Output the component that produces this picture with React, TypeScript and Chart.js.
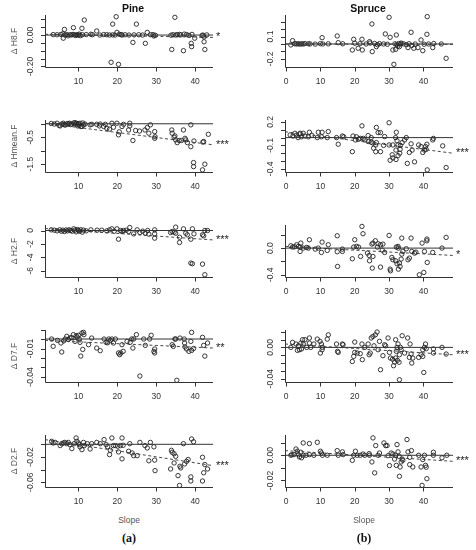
import React, { useEffect, useRef } from "react";
import { Chart, registerables } from "chart.js";

Chart.register(...registerables);

type Pt = [number, number];

// ---------- axes ----------
const pineXRange = [1.4, 44.6];
const spruceXRange = [-0.3, 48.6];
const pineXTicks = [10, 20, 30, 40];
const spruceXTicks = [0, 10, 20, 30, 40];
const rowTitles = ["Δ H8.F", "Δ Hmean.F", "Δ H2.F", "Δ D7.F", "Δ D2.F"];
const columnTitles = ["Pine", "Spruce"];
const panelLetters = ["(a)", "(b)"];
const xTitle = "Slope";

// ---------- Pine ----------
const pineH8: Pt[] = [
  [3.5, 0.003], [4.5, 0.002], [5.5, 0.004], [6, 0.008], [6.5, 0], [7, 0.003], [7.3, -0.005], [7.8, 0.002],
  [8.2, 0], [8.6, 0.004], [9, 0.001], [9.3, -0.003], [9.6, 0.002], [10, 0], [10.2, 0.006], [10.5, -0.004],
  [11, 0.002], [12, 0.003], [13.2, 0.005], [13.6, 0.002], [15.5, 0], [16.5, 0.003], [17.3, 0.002], [18, 0],
  [18.8, 0.001], [19.4, 0], [20.5, 0.005], [21, 0.003], [21.2, 0], [22, 0.002], [23, 0], [24.3, 0.001],
  [25.5, 0.002], [26.5, 0], [28.5, 0.002], [29.2, 0.003], [29.8, -0.002], [33.8, -0.001], [34.3, 0.002],
  [35, 0], [35.4, 0.003], [36, 0.004], [36.3, 0.001], [37.2, 0.006], [37.8, 0.003], [38.4, -0.002],
  [39.2, 0.004], [41.8, -0.003], [42, 0], [42.3, -0.012], [43, 0.001],
  [11.5, 0.096], [8.7, 0.047], [6.4, 0.036], [10.9, 0.043], [19.7, 0.117], [18.8, 0.07], [24.9, 0.07],
  [34.8, 0.113], [14.7, 0.026], [19.9, 0.017], [27.7, 0.017], [18.4, -0.174], [20.3, -0.187], [24, -0.047],
  [27.2, -0.053], [34, -0.092], [37, -0.1], [39, -0.053], [39.1, -0.074], [42.3, -0.043], [42.5, -0.092],
  [39.9, -0.02], [6.1, -0.02], [29.4, -0.006],
];
const pineHmean: Pt[] = [
  [3, 0.01], [3.8, -0.01], [4.5, 0.02], [5, -0.06], [5.3, -0.08], [5.7, -0.01], [6.1, 0.02], [6.3, -0.03],
  [6.6, -0.05], [7, -0.01], [7.3, 0.01], [7.7, 0.02], [8, -0.03], [8.3, -0.01], [8.8, 0.03], [9.1, 0.04],
  [9.3, -0.02], [9.5, 0.02], [9.8, -0.08], [10, 0], [10.2, -0.05], [10.4, 0.02], [10.6, -0.1], [10.9, -0.1],
  [11.1, 0.03], [11.3, -0.04], [11.7, -0.01], [13, -0.04], [13.4, -0.02], [14.7, -0.02], [15.4, -0.08],
  [15.6, -0.01], [16.5, -0.1], [16.9, -0.02], [17.3, -0.17], [18, -0.2], [18.6, 0.02], [19, -0.13],
  [19.9, 0.02], [20.3, -0.41], [20.5, -0.3], [21.2, -0.1], [21.6, -0.02], [22.9, -0.23], [23.2, 0.02],
  [23.2, -0.08], [24, -0.62], [24.7, -0.25], [25.7, -0.27], [27.1, -0.23], [27.7, -0.14], [28.1, -0.35],
  [28.5, -0.04], [29.6, -0.29], [29.6, -0.54], [29.7, -0.48], [34, -0.23], [34.1, -0.35], [34.6, -0.5],
  [35, -0.6], [35.4, -0.7], [35.9, -0.62], [37, -0.23], [37.4, -0.54], [38, -0.7], [38.9, -0.85],
  [38.9, -0.04], [39.7, -0.64], [39.6, -1.44], [39.6, -1.59], [41.9, -1.71], [42.2, -0.66], [42.5, -1.5],
  [43.4, -0.39], [36.5, -0.62], [34.8, -0.45], [37.6, -0.6], [42, -0.68],
];
const pineH2: Pt[] = [
  [3, 0.1], [3.8, 0.05], [4.5, -0.05], [5.2, 0.1], [5.6, -0.1], [6, 0.05], [6.4, -0.15], [6.8, 0.08],
  [7.2, -0.05], [7.6, 0.1], [8, 0], [8.4, -0.1], [8.8, 0.25], [9.1, 0.05], [9.4, -0.2], [9.7, 0.15],
  [10, 0], [10.3, -0.1], [10.6, 0.12], [11, -0.25], [11.3, 0.05], [12, -0.05], [13.2, 0.1], [14.8, 0.05],
  [16, 0.05], [17.3, -0.05], [18, 0.1], [18.6, 0.25], [19.2, -0.1], [19.9, 0.25], [20.8, 0], [21.2, -0.15],
  [21.6, 0], [22.9, -0.15], [23.2, 0.45], [24.2, -0.5], [25.1, 0.1], [25.8, -0.3], [27.2, -0.4],
  [28.1, -0.54], [29.6, 0.1], [29.6, -0.5], [29.6, -1.14], [20.3, -1.29], [33.7, -0.3], [34.1, -0.15],
  [34.6, -0.25], [35, -0.4], [35, 0.5], [36, -1], [36, -1.78], [37, 0.25], [37.6, -0.4], [38, -0.64],
  [38.9, -1.29], [39.3, 0.25], [39.7, -0.5], [41.9, -0.64], [42.2, -0.8], [42.5, 0], [43.2, 0],
  [38.9, -4.85], [39.3, -4.95], [41.9, -5], [42.5, -6.58], [27.8, 0], [26.5, -0.1], [22.3, 0.05],
];
const pineD7: Pt[] = [
  [3.5, -0.0077], [5.7, -0.0137], [5.5, -0.0042], [4.6, -0.0014], [3.1, 0], [7, 0.0028], [7.4, -0.0005],
  [7.8, 0.001], [8.7, 0.0046], [9.1, -0.0025], [9.4, 0.0035], [10, 0.0039], [10.2, 0], [10.4, -0.0035],
  [10.6, -0.018], [10.9, 0.0063], [11.3, 0.007], [11.1, -0.011], [11.4, 0.0046], [12.6, -0.006],
  [13.4, 0.001], [14.7, -0.0095], [15.6, -0.0123], [16.6, 0], [17.1, -0.0035], [17.5, -0.004],
  [18.2, -0.0014], [18.6, 0], [19, -0.0042], [20.3, -0.0147], [20.6, -0.0165], [20.9, -0.0147],
  [21.2, -0.006], [21.5, -0.013], [22.5, -0.0025], [23.3, -0.0035], [23.7, 0], [24, -0.0095],
  [24.9, 0.0046], [25.8, -0.039], [27.2, -0.0067], [28.3, 0], [28.7, 0.0039], [29.6, -0.0105],
  [29.4, -0.013], [29.6, -0.0147], [34.1, -0.006], [34.4, -0.0077], [34.8, 0], [35.3, -0.0435],
  [36.1, 0.001], [37.3, -0.0042], [37.4, -0.0084], [37.8, -0.0105], [38.4, -0.013], [38.9, -0.0025],
  [39.1, 0.007], [39.1, -0.012], [39.6, -0.01], [41.9, 0.0018], [42.2, -0.0067], [42.5, -0.018],
  [43.2, -0.0042], [37.2, 0], [35, 0], [26.8, 0], [24.2, 0], [19.5, 0], [17.8, 0], [6.2, -0.002],
  [8.2, 0.0015], [9.7, 0.002], [6.6, 0],
];
const pineD2: Pt[] = [
  [3.1, 0.0047], [3.5, 0.002], [4, 0.003], [5.3, -0.002], [5.7, 0.001], [6.1, 0.002], [6.5, 0.003],
  [7, 0.001], [7.4, 0.003], [7.8, -0.0005], [8.3, -0.0068], [8.9, 0.001], [9.4, 0.01], [9.6, 0.0047],
  [10, 0.002], [10.2, -0.0005], [10.4, -0.004], [10.9, -0.0084], [11.3, 0.003], [11.5, -0.002],
  [12.3, 0.001], [13, -0.0074], [13.4, 0.001], [14.7, 0.003], [15.6, 0.001], [16.6, 0.0074],
  [17.1, -0.0005], [17.5, -0.004], [18, -0.0163], [18.2, -0.0095], [18.6, 0.01], [19, -0.002],
  [19.5, -0.002], [20.1, -0.003], [20.3, -0.012], [20.8, -0.002], [21.2, 0.01], [21.2, -0.023],
  [21.5, -0.0015], [22.9, -0.011], [23.2, 0.001], [23.8, -0.0137], [24.2, -0.018], [25.1, -0.018],
  [25.8, 0.003], [27.1, -0.002], [27.7, -0.0058], [28.1, -0.026], [28.5, 0.003], [29.4, -0.004],
  [29.6, -0.025], [29.7, -0.0416], [33.9, -0.0095], [34.1, -0.0126], [34.6, -0.015], [35, -0.019],
  [34.6, -0.0295], [33.7, -0.039], [35.6, -0.0495], [36, -0.065], [36.1, -0.0347], [36.3, -0.0374],
  [37, 0.001], [37.3, -0.031], [37.8, -0.027], [38.2, -0.024], [38.9, -0.0516], [38.9, -0.058],
  [39.1, 0.0084], [39.6, 0.004], [41.9, -0.0205], [41.9, -0.058], [42.2, -0.045], [42.5, -0.032],
  [43.2, -0.039],
];

// ---------- Spruce ----------
const spruceH8: Pt[] = [
  [30, 0.359], [41.1, 0.368], [25, 0.269], [28.9, 0.135], [30.3, 0.09], [32.1, 0.121], [36.4, 0.157],
  [41, 0.13], [39.3, 0.054], [10.5, 0.085], [14.9, 0.108], [15.2, 0.018], [1.9, 0.045], [1.4, -0.013],
  [19.7, 0.063], [22.1, 0.063], [24.3, 0.031], [19.3, -0.081], [21, -0.058], [22.2, -0.081],
  [25.1, -0.103], [31.4, -0.274], [31.1, -0.081], [31.9, -0.072], [33, -0.036], [35.5, -0.049],
  [37.2, -0.058], [39.8, -0.09], [42.7, -0.049], [46.6, -0.193], [38.4, -0.049], [26.3, -0.036],
  [2.5, 0.004], [3, 0], [3.5, 0.003], [4, -0.002], [4.5, 0.002], [5, 0], [5.5, 0.005], [6.5, 0.003],
  [7, 0], [8.5, -0.002], [10, 0.004], [10.7, 0], [12.3, 0.002], [16.5, 0.003], [20, 0.01], [21.5, 0.004],
  [23.3, 0], [24.5, 0.012], [25.8, 0.006], [26.6, -0.01], [27.2, 0.004], [28.4, 0], [29.5, -0.004],
  [31.7, 0.002], [32.2, -0.008], [32.8, 0.005], [33.4, 0], [34.2, 0.002], [35, -0.01], [35.8, 0.003],
  [36.6, -0.02], [37.6, 0], [40.2, -0.004], [41.5, 0], [43, 0.006], [45.2, 0], [32.5, -0.03], [33.5, 0.012],
];
const spruceHmean: Pt[] = [
  [30, 0.19], [22.1, 0.15], [26.3, 0.13], [26.8, 0.064], [27.5, 0.064], [32.1, 0.068], [35, 0],
  [28.7, 0.013], [24.8, 0], [23.9, 0.026], [19.5, 0.02], [20.5, 0.01], [19.3, -0.18], [15.2, -0.085],
  [12.3, 0.077], [10.5, 0.068], [9.4, 0.068], [6.8, 0.068], [5, 0.055], [4.1, 0.055], [2.6, 0.055],
  [1.2, 0.034], [2, 0.02], [3, 0.03], [3.5, 0], [4, 0.045], [4.5, 0.01], [5.5, 0.02], [6.5, 0.01],
  [7.5, 0.03], [9.1, 0], [10.3, 0.01], [12, 0], [14.7, 0], [16.4, 0.02], [16.8, 0.01], [20.2, -0.03],
  [21.1, -0.02], [21.6, -0.01], [22.5, -0.01], [23, -0.03], [23.9, -0.05], [24.8, -0.06], [25.3, -0.07],
  [26.1, -0.094], [25.5, -0.136], [26.1, -0.18], [27.5, -0.18], [26.3, -0.064], [28.4, -0.1],
  [30, -0.094], [30.3, -0.29], [30.9, -0.22], [31.1, -0.26], [32, -0.28], [32.6, -0.23], [33.1, -0.2],
  [33.2, -0.15], [32, -0.16], [31.1, -0.094], [32.6, -0.094], [33.3, -0.1], [33.8, -0.064],
  [34.5, -0.03], [31.9, 0], [32.3, -0.04], [35.3, -0.33], [35.9, -0.19], [36.7, -0.16], [36.4, -0.08],
  [37.4, -0.31], [38.6, -0.094], [39.3, -0.115], [39.8, -0.19], [40.3, -0.16], [40.6, -0.115],
  [41, -0.085], [40.8, -0.15], [41.1, -0.413], [46.6, -0.383], [42.7, -0.03], [42.9, -0.01],
  [45.6, -0.106],
];
const spruceH2: Pt[] = [
  [22.1, 0.325], [22.4, 0.215], [14.9, 0.185], [30, 0.19], [33.7, 0.15], [36.4, 0.15], [41, 0.135],
  [41, 0.11], [46.6, 0.16], [39.6, 0.075], [26, 0.11], [25.3, 0.075], [26.8, 0.065], [27.5, 0.05],
  [28.2, 0.06], [25, 0.06], [20, 0.125], [6.8, 0.125], [10.5, 0.09], [12.3, 0.05], [4.3, 0.075],
  [3.1, 0.05], [1.4, 0.035], [1.9, 0.015], [3.6, 0.025], [4.1, 0.015], [5, 0], [6, 0.01], [6.5, 0],
  [8.5, -0.015], [9.4, 0], [4.1, -0.05], [10.3, -0.065], [12, -0.035], [14.9, -0.055], [15, -0.275],
  [16.4, -0.015], [16.4, -0.05], [19.3, -0.16], [19.7, 0.015], [20.5, 0.025], [21.1, 0.015],
  [21.7, -0.125], [23.7, -0.075], [24.2, -0.11], [24.3, -0.19], [25.1, -0.3], [25.3, -0.125],
  [26.6, 0.015], [27.5, -0.285], [28.7, -0.065], [30.3, -0.315], [30.4, -0.34], [30.8, -0.14],
  [31.1, -0.175], [31.9, -0.19], [32.1, 0.015], [32.6, 0.025], [32.7, 0], [32.3, -0.235], [32.7, -0.315],
  [33, -0.225], [33.2, -0.275], [33.5, -0.165], [33.7, -0.09], [34, -0.05], [35, -0.01], [35.5, -0.175],
  [35.9, -0.15], [36.6, -0.05], [37.4, -0.075], [38.8, -0.4], [40.1, -0.365], [40.3, -0.05],
  [41.1, -0.215], [42.7, -0.065], [45.4, 0], [2.5, 0.02], [28, -0.03], [37.8, -0.06],
];
const spruceD7: Pt[] = [
  [1.4, 0], [1.9, 0.0064], [2.9, 0.0043], [3.3, -0.0038], [3.9, -0.003], [3.6, 0.002], [4.3, 0.0055],
  [4.5, -0.002], [4.8, 0.0098], [5, 0.0043], [5.5, 0.0098], [6, 0], [6.8, 0.012], [6.8, 0.0055], [7.2, 0],
  [8.1, 0.0043], [9.1, 0.0106], [9.9, 0.0077], [10, -0.0072], [10.3, 0.0043], [10.5, -0.003], [10.6, 0],
  [12, 0.0106], [12.3, 0.016], [14.7, 0.0043], [15, -0.005], [15.2, -0.0064], [16.4, 0.0043],
  [16.6, 0.0034], [19.3, -0.018], [20, 0.0068], [20, -0.0064], [19.7, -0.0115], [20.7, -0.0072],
  [21.6, -0.008], [22.2, -0.0157], [22.1, 0.0043], [22.9, 0], [23.9, 0.0043], [24.2, -0.0094],
  [24.5, -0.0072], [24.8, 0.012], [25.3, 0.014], [25.6, 0.002], [26, 0.016], [26.5, 0.0196],
  [26.8, -0.003], [27.2, 0.0077], [27.5, -0.0285], [28.2, -0.0106], [28.7, 0.0034], [29, 0.002],
  [29.7, 0.012], [30.1, -0.0064], [30.4, -0.0136], [31, -0.015], [31.3, -0.0234], [31.6, -0.0187],
  [31.9, 0.0098], [31.9, -0.0136], [32.1, -0.005], [32.3, 0], [32.4, -0.0166], [32.6, 0.0043],
  [32.9, -0.019], [33, -0.0413], [33, -0.0094], [33.3, 0], [33.5, -0.003], [33.8, 0.0149],
  [34.5, -0.0072], [35.4, 0.012], [35.9, -0.0128], [36.1, 0.0043], [36.4, -0.0085], [36.6, -0.02],
  [36.9, -0.0136], [38.6, -0.0128], [39.3, -0.0094], [39.8, -0.0115], [39.8, -0.003], [40.1, -0.032],
  [40.3, 0], [40.6, 0.0043], [40.8, -0.0017], [42.9, -0.002], [42.9, -0.0072], [45.4, 0], [46.6, -0.0085],
];
const spruceD2: Pt[] = [
  [1.4, 0], [1.7, 0.0005], [2.3, 0.0005], [2.9, 0.005], [3.3, 0.0032], [3.6, 0.0005], [3.9, -0.0013],
  [4.3, 0.0024], [4.5, -0.002], [5, 0.0098], [5, 0], [5.8, 0], [6.8, 0.0093], [6.8, 0.0005], [8.1, 0],
  [9.1, 0.0103], [10, 0.0032], [10.3, 0.0018], [10.6, 0], [12, 0], [14.9, 0.0037], [15.2, 0],
  [16.4, 0.0027], [16.6, 0.0005], [19.3, -0.004], [19.7, 0], [20.2, 0.0032], [20.7, 0], [21.6, 0],
  [22.4, 0.001], [22.9, 0], [24.2, 0.0013], [24.3, 0], [25, -0.0053], [25.3, 0.0138], [25.8, -0.014],
  [26.1, 0.0077], [26.8, 0], [27.2, 0.0018], [28.5, 0.0098], [29, 0.0077], [29.4, 0.0077],
  [29.7, -0.0003], [30.1, -0.0082], [30.6, 0.0018], [31.1, 0.001], [31.6, -0.003], [31.9, 0],
  [32.1, -0.008], [32.3, 0.0085], [32.6, 0.0027], [32.9, -0.0008], [33, -0.0167], [33.2, -0.0093],
  [33.5, -0.0053], [33.8, -0.003], [34, -0.004], [35.2, 0.0125], [35.5, 0.0027], [36, -0.0016],
  [36, -0.0074], [36.5, 0.0037], [36.9, -0.0093], [38.6, 0], [39.3, -0.0093], [39.6, -0.0239],
  [39.8, -0.0034], [40.3, 0], [40.6, -0.008], [40.8, -0.0095], [41, -0.0186], [42.9, 0.0024], [42.9, 0],
  [45.4, -0.002], [46.8, 0],
];

// ---------- per-panel y axes, fitted lines (value at left / right end), significance ----------
const pineYRanges = [[-0.204, 0.128], [-1.79, 0.14], [-6.92, 0.82], [-0.0453, 0.0095], [-0.0675, 0.0147]];
const spruceYRanges = [[-0.31, 0.39], [-0.44, 0.225], [-0.433, 0.346], [-0.0442, 0.0222], [-0.0252, 0.0161]];
const pineYTicks = [
  [-0.2, -0.15, -0.1, -0.05, 0, 0.05, 0.1],
  [-1.5, -1, -0.5, 0],
  [-6, -4, -2, 0],
  [-0.04, -0.03, -0.02, -0.01, 0, 0.01],
  [-0.06, -0.04, -0.02, 0],
];
const spruceYTicks = [
  [-0.2, -0.1, 0, 0.1, 0.2, 0.3],
  [-0.4, -0.3, -0.2, -0.1, 0, 0.1, 0.2],
  [-0.4, -0.2, 0, 0.2],
  [-0.04, -0.03, -0.02, -0.01, 0, 0.01, 0.02],
  [-0.02, -0.01, 0, 0.01],
];
const pineYLabels = [["-0.20", "0.00"], ["-1.5", "-0.5"], ["-6", "-4", "-2", "0"], ["-0.04", "-0.01"], ["-0.06", "-0.02"]];
const spruceYLabels = [["-0.2", "0.1"], ["-0.4", "-0.1", "0.2"], ["-0.4", "0.0"], ["-0.04", "0.00"], ["-0.02", "0.00"]];
const pineFits = [[0.005, -0.015], [0.02, -0.78], [0.3, -1.4], [-0.0014, -0.0095], [0.0074, -0.0337]];
const spruceFits = [[0.0, -0.005], [0.075, -0.2], [0.025, -0.11], [0.0043, -0.0094], [0.0037, -0.0048]];
const pineStars = ["*", "***", "***", "**", "***"];
const spruceStars = ["", "***", "*", "***", "***"];

const pinePoints = [pineH8, pineHmean, pineH2, pineD7, pineD2];
const sprucePoints = [spruceH8, spruceHmean, spruceH2, spruceD7, spruceD2];

// ---------- layout ----------
const AREA_H = 52;
const rowBottoms = [67, 172.1, 277.2, 382.3, 487.4];
const colLeft = [0, 236];
const areaLeft = [45, 285];
const areaRight = [213, 453];
const CANVAS_W = 240;
const PAD_TOP = 10;
const PAD_BOTTOM = 26;

const FONT = "'Liberation Sans', Arial, Helvetica, sans-serif";

const rAxes = {
  id: "rAxes",
  afterDatasetsDraw(chart: any, _args: any, o: any) {
    const { ctx, chartArea: a, scales } = chart;
    const xs = scales.x;
    const ys = scales.y;
    ctx.save();
    ctx.strokeStyle = "#333";
    ctx.lineWidth = 1;
    ctx.beginPath();
    ctx.moveTo(a.left + 0.5, a.top);
    ctx.lineTo(a.left + 0.5, a.bottom + 0.5);
    ctx.lineTo(a.right, a.bottom + 0.5);
    ctx.stroke();
    ctx.beginPath();
    for (const t of o.xTicks) {
      const px = Math.round(xs.getPixelForValue(t)) + 0.5;
      ctx.moveTo(px, a.bottom);
      ctx.lineTo(px, a.bottom + 4.5);
    }
    for (const t of o.yTicks) {
      const py = Math.round(ys.getPixelForValue(t)) + 0.5;
      ctx.moveTo(a.left, py);
      ctx.lineTo(a.left - 4, py);
    }
    ctx.stroke();

    ctx.fillStyle = "#333";
    ctx.font = `8.5px ${FONT}`;
    ctx.textAlign = "center";
    ctx.textBaseline = "middle";
    for (const t of o.xTicks) ctx.fillText(String(t), xs.getPixelForValue(t), a.bottom + 14.5);
    for (const s of o.yLabels) {
      const py = ys.getPixelForValue(Number(s));
      ctx.save();
      ctx.translate(a.left - 14, py);
      ctx.rotate(-Math.PI / 2);
      ctx.fillText(s, 0, 0);
      ctx.restore();
    }
    if (o.yTitle) {
      ctx.save();
      ctx.fillStyle = "#555";
      ctx.font = `8.5px ${FONT}`;
      ctx.translate(a.left - 30, (a.top + a.bottom) / 2);
      ctx.rotate(-Math.PI / 2);
      ctx.fillText(o.yTitle, 0, 0);
      ctx.restore();
    }
    if (o.star) {
      ctx.fillStyle = "#222";
      ctx.font = `11px ${FONT}`;
      ctx.textAlign = "left";
      ctx.fillText(o.star, a.right + 3, ys.getPixelForValue(o.fitEnd));
    }
    ctx.restore();
  },
};

type PanelProps = {
  col: number;
  row: number;
};

function Panel({ col, row }: PanelProps) {
  const ref = useRef<HTMLCanvasElement | null>(null);
  const points = col === 0 ? pinePoints[row] : sprucePoints[row];
  const xr = col === 0 ? pineXRange : spruceXRange;
  const xTicks = col === 0 ? pineXTicks : spruceXTicks;
  const yr = col === 0 ? pineYRanges[row] : spruceYRanges[row];
  const yTicks = col === 0 ? pineYTicks[row] : spruceYTicks[row];
  const yLabels = col === 0 ? pineYLabels[row] : spruceYLabels[row];
  const fit = col === 0 ? pineFits[row] : spruceFits[row];
  const star = col === 0 ? pineStars[row] : spruceStars[row];
  const height = PAD_TOP + AREA_H + PAD_BOTTOM;
  const top = rowBottoms[row] - AREA_H - PAD_TOP;
  const padLeft = areaLeft[col] - colLeft[col];
  const padRight = CANVAS_W - (areaRight[col] - colLeft[col]);

  useEffect(() => {
    if (!ref.current) return;
    const chart = new Chart(ref.current, {
      type: "scatter",
      data: {
        datasets: [
          {
            data: [{ x: xr[0], y: 0 }, { x: xr[1], y: 0 }],
            showLine: true,
            borderColor: "#333",
            borderWidth: 1,
            pointRadius: 0,
          },
          {
            data: [{ x: xr[0], y: fit[0] }, { x: xr[1], y: fit[1] }],
            showLine: true,
            borderColor: "#333",
            borderWidth: 0.9,
            borderDash: [3, 2.5],
            pointRadius: 0,
          },
          {
            data: points.map(([x, y]) => ({ x, y })),
            pointStyle: "circle",
            pointRadius: 2.2,
            pointBorderWidth: 0.9,
            pointBackgroundColor: "rgba(0,0,0,0)",
            pointBorderColor: "#222",
            showLine: false,
            clip: 5,
          },
        ],
      } as any,
      options: {
        animation: false,
        responsive: false,
        events: [],
        layout: { padding: { left: padLeft, right: padRight, top: PAD_TOP, bottom: PAD_BOTTOM } },
        plugins: {
          legend: { display: false },
          tooltip: { enabled: false },
          rAxes: {
            xTicks,
            yTicks,
            yLabels,
            yTitle: col === 0 ? rowTitles[row] : "",
            star,
            fitEnd: fit[1],
          },
        } as any,
        scales: {
          x: { type: "linear", display: false, min: xr[0], max: xr[1] },
          y: { type: "linear", display: false, min: yr[0], max: yr[1] },
        },
      },
      plugins: [rAxes],
    });
    return () => chart.destroy();
  }, []);

  return (
    <canvas
      ref={ref}
      width={CANVAS_W}
      height={height}
      style={{ position: "absolute", left: colLeft[col], top, width: CANVAS_W, height }}
    />
  );
}

const textStyle = (x: number, y: number, extra: React.CSSProperties): React.CSSProperties => ({
  position: "absolute",
  left: x,
  top: y,
  transform: "translate(-50%, -50%)",
  whiteSpace: "nowrap",
  lineHeight: 1,
  ...extra,
});

export default function App() {
  const panels = [];
  for (let c = 0; c < 2; c++) for (let r = 0; r < 5; r++) panels.push(<Panel key={`${c}-${r}`} col={c} row={r} />);
  return (
    <div style={{ position: "absolute", left: 0, top: 0, width: 476, height: 550, background: "#fff", overflow: "hidden" }}>
      {panels}
      <div style={textStyle(133, 8, { fontFamily: FONT, fontWeight: "bold", fontSize: 10.5, color: "#111" })}>{columnTitles[0]}</div>
      <div style={textStyle(368, 8, { fontFamily: FONT, fontWeight: "bold", fontSize: 10.5, color: "#111" })}>{columnTitles[1]}</div>
      <div style={textStyle(129, 520, { fontFamily: FONT, fontSize: 8.5, color: "#555" })}>{xTitle}</div>
      <div style={textStyle(364, 520, { fontFamily: FONT, fontSize: 8.5, color: "#555" })}>{xTitle}</div>
      <div style={textStyle(129, 538, { fontFamily: "'Liberation Serif', 'DejaVu Serif', serif", fontWeight: "bold", fontSize: 12, color: "#111" })}>{panelLetters[0]}</div>
      <div style={textStyle(364, 538, { fontFamily: "'Liberation Serif', 'DejaVu Serif', serif", fontWeight: "bold", fontSize: 12, color: "#111" })}>{panelLetters[1]}</div>
    </div>
  );
}
